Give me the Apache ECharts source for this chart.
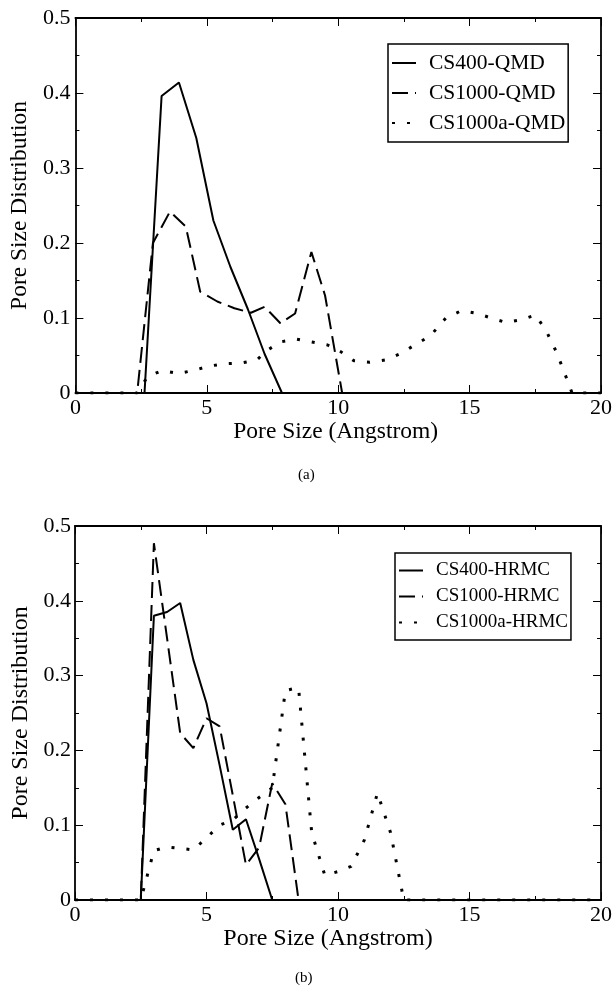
<!DOCTYPE html>
<html>
<head>
<meta charset="utf-8">
<script src="https://cdn.jsdelivr.net/npm/echarts@6/dist/echarts.min.js"></script>
<style>
html,body{margin:0;padding:0;background:#fff;}
#chart{width:615px;height:990px;}
</style>
</head>
<body>
<div id="chart"></div>
<script>
// ---------- data: panel (a) QMD ----------
const xTicks = [0, 5, 10, 15, 20];
const yTicks = [0, 0.1, 0.2, 0.3, 0.4, 0.5];

const qmdNames = ['CS400-QMD', 'CS1000-QMD', 'CS1000a-QMD'];
const cs400QMD_x = [0, 2.63, 3.28, 3.94, 4.6, 5.25, 5.9, 6.56, 7.2, 7.86, 10.15];
const cs400QMD_y = [0, 0, 0.396, 0.414, 0.34, 0.23, 0.168, 0.112, 0.052, 0, 0];
const cs1000QMD_x = [0, 2.35, 2.95, 3.6, 4.2, 4.75, 5.4, 6.05, 6.68, 7.2, 7.8, 8.36, 8.98, 9.5, 10.15];
const cs1000QMD_y = [0, 0, 0.2, 0.242, 0.222, 0.135, 0.122, 0.113, 0.107, 0.115, 0.093, 0.106, 0.188, 0.13, 0];
const cs1000aQMD_x = [0, 2.35, 2.75, 3.3, 3.9, 4.5, 5.1, 5.7, 6.3, 6.9, 7.3, 7.8, 8.4, 9.0, 9.6, 10.1, 10.6, 11.2, 11.8, 12.4, 13.0, 13.5, 14.1, 14.7, 15.3, 15.9, 16.4, 17.0, 17.5, 17.9, 18.3, 18.6, 18.9, 20];
const cs1000aQMD_y = [0, 0, 0.022, 0.03, 0.026, 0.03, 0.036, 0.039, 0.04, 0.044, 0.057, 0.068, 0.072, 0.068, 0.064, 0.055, 0.043, 0.041, 0.044, 0.053, 0.066, 0.076, 0.1, 0.11, 0.106, 0.099, 0.094, 0.098, 0.104, 0.084, 0.055, 0.028, 0, 0];

// ---------- data: panel (b) HRMC ----------
const hrmcNames = ['CS400-HRMC', 'CS1000-HRMC', 'CS1000a-HRMC'];
const cs400HRMC_x = [0, 2.5, 3.0, 3.5, 4.0, 4.5, 5.0, 5.5, 6.0, 6.5, 7.0, 7.5, 12.5];
const cs400HRMC_y = [0, 0, 0.38, 0.385, 0.397, 0.321, 0.263, 0.18, 0.094, 0.108, 0.055, 0, 0];
const cs1000HRMC_x = [0, 2.5, 3.0, 3.5, 4.0, 4.5, 5.0, 5.5, 6.0, 6.5, 7.0, 7.5, 8.0, 8.5, 12.5];
const cs1000HRMC_y = [0, 0, 0.477, 0.35, 0.223, 0.203, 0.243, 0.232, 0.14, 0.047, 0.07, 0.156, 0.128, 0, 0];
const cs1000aHRMC_x = [0, 2.5, 3.0, 3.5, 4.0, 4.5, 5.0, 5.5, 6.0, 6.5, 7.0, 7.5, 8.0, 8.5, 9.0, 9.5, 10.0, 10.5, 11.0, 11.5, 12.0, 12.5, 20];
const cs1000aHRMC_y = [0, 0, 0.066, 0.071, 0.069, 0.067, 0.083, 0.1, 0.107, 0.123, 0.137, 0.15, 0.28, 0.284, 0.09, 0.033, 0.038, 0.045, 0.08, 0.143, 0.09, 0, 0];

const xTitle = 'Pore Size (Angstrom)';
const yTitle = 'Pore Size Distribution';
const panelLabels = ['(a)', '(b)'];

// ---------- build ----------
const FONT = '"Liberation Serif", "Times New Roman", Times, serif';
const pairs = (xs, ys) => xs.map((x, i) => [x, ys[i]]);
const styles = [
  { type: 'solid', width: 2 },
  { type: [16, 7], width: 2 },
  { type: [3, 12], width: 3 }
];

function xAx(g, pos, f) {
  const main = pos === 'bottom';
  return {
    gridIndex: g, type: 'value', position: pos,
    min: xTicks[0], max: xTicks[xTicks.length - 1], interval: xTicks[1] - xTicks[0],
    axisLine: { show: true, onZero: false, lineStyle: { color: '#000', width: 1.8 } },
    axisTick: { show: true, inside: true, length: 8, lineStyle: { color: '#000', width: 1 } },
    minorTick: { show: true, splitNumber: 2, length: 4, lineStyle: { color: '#000', width: 1 } },
    splitLine: { show: false },
    axisLabel: { show: main, color: '#000', fontFamily: FONT, fontSize: f.tick, margin: 4 },
    name: main ? xTitle : '', nameLocation: 'middle', nameGap: f.xGap,
    nameTextStyle: { color: '#000', fontFamily: FONT, fontSize: f.title, padding: f.xPad }
  };
}
function yAx(g, pos, f) {
  const main = pos === 'left';
  return {
    gridIndex: g, type: 'value', position: pos,
    min: yTicks[0], max: yTicks[yTicks.length - 1], interval: yTicks[1] - yTicks[0],
    axisLine: { show: true, onZero: false, lineStyle: { color: '#000', width: 1.8 } },
    axisTick: { show: true, inside: true, length: 8, lineStyle: { color: '#000', width: 1 } },
    minorTick: { show: true, splitNumber: 2, length: 4, lineStyle: { color: '#000', width: 1 } },
    splitLine: { show: false },
    axisLabel: { show: main, color: '#000', fontFamily: FONT, fontSize: f.tick, margin: f.yMargin },
    name: main ? yTitle : '', nameLocation: 'middle', nameGap: f.yGap, nameRotate: 90,
    nameTextStyle: { color: '#000', fontFamily: FONT, fontSize: f.title }
  };
}
const fA = { tick: 22, title: 23.5, xGap: 26, yGap: 34, yMargin: 5, xPad: [0, 5, 0, 0] };
const fB = { tick: 22, title: 24, xGap: 25, yGap: 36, yMargin: 4, xPad: [0, 20, 0, 0] };

function series(name, xs, ys, k, axisIdx) {
  return {
    name, type: 'line', xAxisIndex: axisIdx, yAxisIndex: axisIdx,
    data: pairs(xs, ys), symbol: 'none', showSymbol: false, animation: false,
    lineStyle: { color: '#000', width: styles[k].width, type: styles[k].type, cap: 'butt' },
    itemStyle: { color: 'rgba(0,0,0,0)', borderWidth: 0, opacity: 0 }, z: 3 - k
  };
}

function legend(names, left, top, fs, gap, pad) {
  return {
    data: names, orient: 'vertical', left, top, padding: pad, itemGap: gap,
    itemWidth: 24, itemHeight: 14, borderColor: '#000', borderWidth: 1.5,
    backgroundColor: '#fff', selectedMode: false,
    itemStyle: { color: 'rgba(0,0,0,0)', borderWidth: 0, opacity: 0 },
    lineStyle: { color: '#000', opacity: 1 },
    textStyle: { color: '#000', fontFamily: FONT, fontSize: fs, padding: [0, 0, 0, 8] }
  };
}

const option = {
  backgroundColor: '#fff',
  animation: false,
  grid: [
    { left: 68, top: 18, width: 535, height: 375, show: false },
    { left: 75, top: 526, width: 533, height: 374, show: false }
  ],
  xAxis: [xAx(0, 'bottom', fA), xAx(1, 'bottom', fB), xAx(0, 'top', fA), xAx(1, 'top', fB)],
  yAxis: [yAx(0, 'left', fA), yAx(1, 'left', fB), yAx(0, 'right', fA), yAx(1, 'right', fB)],
  legend: [
    legend(qmdNames, 388, 44, 21.5, 8, [8, 3]),
    legend(hrmcNames, 395, 553, 19, 7, [8, 3])
  ],
  series: [
    series(qmdNames[0], cs400QMD_x, cs400QMD_y, 0, 0),
    series(qmdNames[1], cs1000QMD_x, cs1000QMD_y, 1, 0),
    series(qmdNames[2], cs1000aQMD_x, cs1000aQMD_y, 2, 0),
    series(hrmcNames[0], cs400HRMC_x, cs400HRMC_y, 0, 1),
    series(hrmcNames[1], cs1000HRMC_x, cs1000HRMC_y, 1, 1),
    series(hrmcNames[2], cs1000aHRMC_x, cs1000aHRMC_y, 2, 1)
  ],
  graphic: [
    { type: 'text', left: 298, top: 468, style: { text: panelLabels[0], font: '15px ' + FONT, fill: '#000' } },
    { type: 'text', left: 295, top: 971, style: { text: panelLabels[1], font: '15px ' + FONT, fill: '#000' } }
  ]
};

const chart = echarts.init(document.getElementById('chart'), null, { renderer: 'canvas' });
chart.setOption(option);
</script>
</body>
</html>
